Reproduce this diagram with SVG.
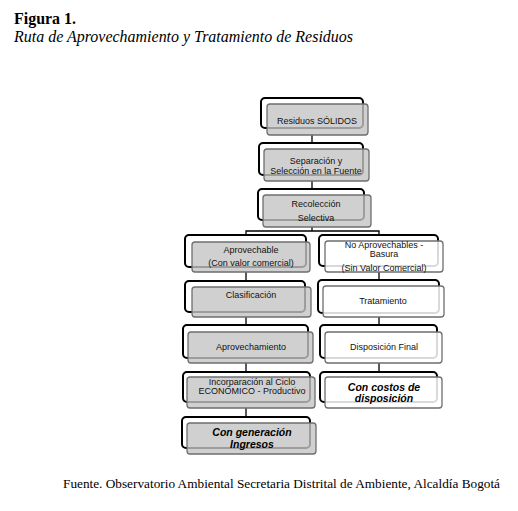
<svg xmlns="http://www.w3.org/2000/svg" width="518" height="511" viewBox="0 0 518 511">
<style>
.bk{fill:#fff;stroke:#000;stroke-width:2}
.fg{fill:#c4c4c4;fill-opacity:0.8;stroke:#6e6e6e;stroke-width:1.3}
.fw{fill:#fff;fill-opacity:0.85;stroke:#6e6e6e;stroke-width:1.3}
.t{font-family:"Liberation Sans",Arial,sans-serif;font-size:9px;fill:#111;text-anchor:middle}
.b{font-family:"Liberation Sans",Arial,sans-serif;font-size:10.5px;font-weight:bold;font-style:italic;fill:#000;text-anchor:middle}
.c{fill:none;stroke:#000;stroke-width:1.3}
</style>
<rect width="518" height="511" fill="#fff"/>
<text x="14" y="24" font-family="Liberation Serif,serif" font-size="16" font-weight="bold" textLength="62" lengthAdjust="spacingAndGlyphs">Figura 1.</text>
<text x="14" y="42" font-family="Liberation Serif,serif" font-size="16" font-style="italic" textLength="339" lengthAdjust="spacingAndGlyphs">Ruta de Aprovechamiento y Tratamiento de Residuos</text>
<text x="63" y="488" font-family="Liberation Serif,serif" font-size="13.3" textLength="437" lengthAdjust="spacingAndGlyphs">Fuente. Observatorio Ambiental Secretaria Distrital de Ambiente, Alcaldía Bogotá</text>
<g id="connectors">
<path class="c" d="M312 135V149M312 181V195M312 227V231H246V237M312 231H379V237M246 272V281M379 272V281M246 317V326M379 317V326M246 363V372M379 363V372M246 408V417"/>
</g>
<g id="n1"><rect class="bk" x="261" y="98" width="102" height="30" rx="4"/><rect class="fg" x="267" y="104" width="101" height="31" rx="3"/><text class="t" x="317" y="124">Residuos SÓLIDOS</text></g>
<g id="n2"><rect class="bk" x="259" y="143" width="104" height="32" rx="4"/><rect class="fg" x="264" y="149" width="105" height="32" rx="3"/><text class="t" x="316" y="164">Separación y</text><text class="t" x="316" y="174">Selección en la Fuente</text></g>
<g id="n3"><rect class="bk" x="258" y="189" width="106" height="31" rx="4"/><rect class="fg" x="263" y="195" width="108" height="32" rx="3"/><text class="t" x="316" y="207">Recolección</text><text class="t" x="316" y="221">Selectiva</text></g>
<g id="n4"><rect class="bk" x="185" y="235" width="121" height="32" rx="4"/><rect class="fg" x="192" y="242" width="118" height="30" rx="3"/><text class="t" x="251" y="253">Aprovechable</text><text class="t" x="251" y="266">(Con valor comercial)</text></g>
<g id="n5"><rect class="bk" x="319" y="235" width="119" height="31" rx="4"/><rect class="fw" x="325" y="241" width="118" height="31" rx="3"/><text class="t" x="384" y="248">No Aprovechables -</text><text class="t" x="384" y="257">Basura</text><text class="t" x="384" y="271">(Sin Valor Comercial)</text></g>
<g id="n6"><rect class="bk" x="185" y="281" width="120" height="31" rx="4"/><rect class="fg" x="192" y="287" width="119" height="30" rx="3"/><text class="t" x="251" y="298">Clasificación</text></g>
<g id="n7"><rect class="bk" x="318" y="280" width="121" height="33" rx="4"/><rect class="fw" x="323" y="286" width="121" height="31" rx="3"/><text class="t" x="383" y="304">Tratamiento</text></g>
<g id="n8"><rect class="bk" x="183" y="325" width="125" height="33" rx="4"/><rect class="fg" x="188" y="332" width="125" height="31" rx="3"/><text class="t" x="251" y="350">Aprovechamiento</text></g>
<g id="n9"><rect class="bk" x="320" y="325" width="117" height="33" rx="4"/><rect class="fw" x="325" y="332" width="117" height="31" rx="3"/><text class="t" x="384" y="350">Disposición Final</text></g>
<g id="n10"><rect class="bk" x="183" y="372" width="127" height="30" rx="4"/><rect class="fg" x="187" y="377" width="128" height="31" rx="3"/><text class="t" x="252" y="385">Incorparación al Ciclo</text><text class="t" x="252" y="394">ECONÓMICO - Productivo</text></g>
<g id="n11"><rect class="bk" x="320" y="372" width="117" height="30" rx="4"/><rect class="fw" x="325" y="377" width="117" height="31" rx="3"/><text class="b" x="384" y="391">Con costos de</text><text class="b" x="384" y="402">disposición</text></g>
<g id="n12"><rect class="bk" x="182" y="417" width="128" height="31" rx="4"/><rect class="fg" x="187" y="423" width="129" height="31" rx="3"/><text class="b" x="252" y="436">Con generación</text><text class="b" x="252" y="448">Ingresos</text></g>
</svg>
